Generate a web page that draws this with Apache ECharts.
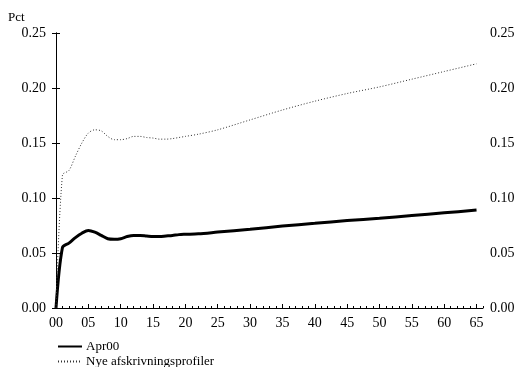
<!DOCTYPE html>
<html><head><meta charset="utf-8">
<script src="https://cdn.jsdelivr.net/npm/echarts@6/dist/echarts.min.js"></script>
<style>html,body{margin:0;padding:0;background:#fff}#c{width:520px;height:367px}</style>
</head><body><div id="c"></div>
<script>
const years = [0,1,2,3,4,5,6,7,8,9,10,11,12,13,14,15,16,17,18,19,20,22,25,30,35,40,45,50,55,60,65];
const apr00 = [0,0.055,0.059,0.064,0.068,0.0705,0.069,0.066,0.063,0.0625,0.063,0.065,0.066,0.066,0.0655,0.065,0.065,0.0655,0.066,0.0667,0.067,0.0675,0.069,0.0715,0.0745,0.077,0.0795,0.0815,0.084,0.0865,0.089];
const nye = [0,0.121,0.125,0.138,0.150,0.159,0.162,0.161,0.156,0.153,0.153,0.154,0.156,0.156,0.155,0.1545,0.1535,0.1535,0.154,0.155,0.156,0.158,0.162,0.171,0.180,0.188,0.195,0.201,0.208,0.215,0.222];
const seriesNames = ['Apr00','Nye afskrivningsprofiler'];
const yTicks = [0,0.05,0.10,0.15,0.20,0.25];
const xLabels = [0,5,10,15,20,25,30,35,40,45,50,55,60,65];

const font = 'Liberation Serif, Times New Roman, serif';
const pair = (ys) => years.map((x,i)=>[x, ys[i]]);
const yAxisBase = (pos) => ({
  type:'value', position:pos, min:0, max:0.25, interval:0.05,
  axisLine:{show:true, lineStyle:{color:'#000', width:1}},
  axisTick:{show:true, inside:false, length:4, lineStyle:{color:'#000'}},
  axisLabel:{color:'#000', fontFamily:font, fontSize:14, margin:pos==='left'?10:7, formatter:v=>v.toFixed(2)},
  splitLine:{show:false}
});
const legendBase = (name, top) => ({
  orient:'vertical', left:52, top:top, itemWidth:24, itemHeight:10, itemGap:2,
  textStyle:{fontFamily:font, fontSize:13, color:'#000', padding:[0,0,0,-1]},
  itemStyle:{opacity:0},
  data:[name]
});
const chart = echarts.init(document.getElementById('c'), null, {renderer:'canvas'});
chart.setOption({
  animation:false,
  backgroundColor:'#fff',
  grid:{left:56, right:37, top:33, bottom:59},
  graphic:[{type:'text', left:8, top:11, style:{text:'Pct', fontFamily:font, fontSize:13, fill:'#000'}}],
  legend:[legendBase(seriesNames[0], 335), legendBase(seriesNames[1], 350)],
  xAxis:[{
    type:'value', min:0, max:66, interval:1,
    axisLine:{show:true, onZero:false, lineStyle:{color:'#000', width:1}},
    axisTick:{show:true, inside:true, length:2, lineStyle:{color:'#000'}},
    axisLabel:{show:true, color:'#000', fontFamily:font, fontSize:14, margin:8,
      customValues:xLabels, formatter:v=>String(v).padStart(2,'0')},
    splitLine:{show:false}
  },{
    type:'value', min:0, max:66, position:'bottom',
    axisLine:{show:false},
    axisTick:{show:true, inside:true, length:4, customValues:xLabels, lineStyle:{color:'#000'}},
    axisLabel:{show:false},
    splitLine:{show:false}
  }],
  yAxis:[yAxisBase('left'), yAxisBase('right')],
  series:[
    {name:seriesNames[0], type:'line', data:pair(apr00), showSymbol:false, symbol:'none', smooth:0.3,
     lineStyle:{color:'#000', width:3}, itemStyle:{color:'#000'}},
    {name:seriesNames[1], type:'line', data:pair(nye), showSymbol:false, symbol:'none', smooth:0.3,
     lineStyle:{color:'#333', width:1, type:[1,2]}, itemStyle:{color:'#333'}}
  ]
});
</script></body></html>
